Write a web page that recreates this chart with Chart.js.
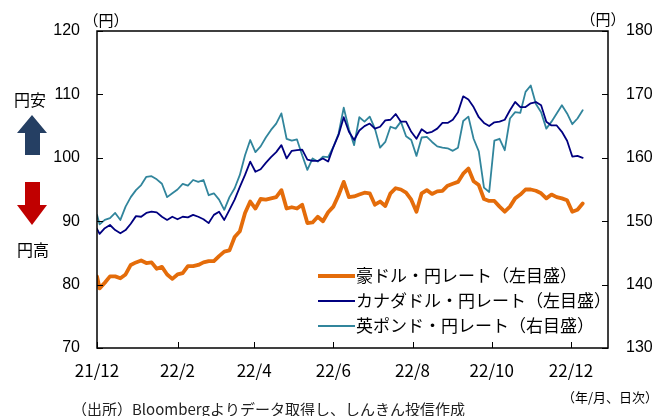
<!DOCTYPE html>
<html lang="ja">
<head>
<meta charset="utf-8">
<title>豪ドル・カナダドル・英ポンドの対円レート</title>
<script src="https://cdn.jsdelivr.net/npm/chart.js@4.4.1/dist/chart.umd.min.js"></script>
<style>
    html, body { margin: 0; padding: 0; background: #fff; }
    #wrap { width: 654px; height: 416px; }
</style>
</head>
<body>
<div id="wrap"><canvas id="fxChart" width="654" height="416"></canvas></div>
<script>
/* ── Données ───────────────────────────────────────────────── */

// jours écoulés depuis le 2021/12/01
const sampleDays = [
    0, 2, 6, 10, 14, 18, 22, 26, 30, 34, 38, 42, 46, 50, 54, 58, 62, 66, 70, 74,
    78, 82, 86, 90, 94, 98, 102, 106, 110, 114, 118, 122, 126, 130, 134, 138, 142, 146, 150, 154,
    158, 162, 166, 170, 174, 178, 182, 186, 190, 194, 198, 202, 206, 210, 214, 218, 222, 226, 230, 234,
    238, 242, 246, 250, 254, 258, 262, 266, 270, 274, 278, 282, 286, 290, 294, 298, 302, 306, 310, 314,
    318, 322, 326, 330, 334, 338, 342, 346, 350, 354, 358, 362, 366, 370, 374,
];

// 豪ドル・円 (左目盛)
const audJpy = [
    81.3, 79.4, 80.3, 81.3, 81.3, 81.0, 81.6, 83.1, 83.5, 83.8, 83.4, 83.5, 82.5, 82.8, 81.6, 80.9, 81.6, 81.8, 82.9, 82.9,
    83.1, 83.5, 83.7, 83.7, 84.5, 85.2, 85.4, 87.5, 88.4, 91.3, 93.1, 92.0, 93.5, 93.4, 93.6, 93.8, 94.9, 92.0, 92.2, 92.0,
    92.6, 89.7, 89.8, 90.7, 90.0, 91.4, 92.3, 94.1, 96.2, 93.8, 93.9, 94.2, 94.5, 94.4, 92.6, 93.1, 92.4, 94.4, 95.2, 95.0,
    94.5, 93.4, 91.5, 94.4, 94.9, 94.3, 94.7, 94.8, 95.6, 95.9, 96.2, 97.5, 98.3, 96.3, 95.7, 93.5, 93.2, 93.2, 92.3, 91.5,
    92.3, 93.6, 94.2, 95.0, 95.0, 94.8, 94.4, 93.6, 94.2, 93.8, 93.6, 93.3, 91.5, 91.8, 92.8,
];

// カナダドル・円 (左目盛)
const cadJpy = [
    88.8, 88.0, 88.9, 89.4, 88.6, 88.1, 88.6, 89.6, 90.8, 90.7, 91.3, 91.5, 91.4, 90.7, 90.2, 90.7, 90.3, 90.7, 90.6, 91.0,
    90.7, 90.3, 89.7, 91.0, 91.5, 90.2, 91.8, 93.4, 95.4, 97.3, 99.4, 97.8, 98.2, 99.2, 100.1, 100.9, 102.0, 99.9, 101.1, 101.2,
    101.3, 99.7, 99.5, 99.5, 99.9, 99.4, 101.7, 103.6, 106.4, 104.1, 102.8, 104.3, 105.0, 105.4, 104.6, 104.9, 105.9, 106.0, 106.9, 105.7,
    105.7, 104.1, 103.0, 104.5, 103.9, 104.1, 104.6, 105.5, 105.5, 106.0, 107.2, 109.7, 109.2, 108.0, 106.4, 105.5, 105.0, 105.6, 105.7, 106.0,
    107.5, 108.8, 108.0, 108.0, 108.6, 108.8, 108.3, 105.7, 105.1, 105.1, 104.1, 102.7, 100.2, 100.3, 100.0,
];

// 英ポンド・円 (右目盛)
const gbpJpy = [
    151.0, 149.5, 150.2, 150.5, 151.3, 150.2, 152.3, 153.8, 154.9, 155.7, 157.0, 157.1, 156.6, 155.9, 153.8, 154.4, 155.0, 155.9, 155.6, 156.5,
    156.2, 156.5, 154.1, 154.4, 153.4, 151.8, 153.8, 155.2, 157.3, 160.4, 162.8, 160.9, 161.8, 163.2, 164.4, 165.4, 167.0, 163.0, 162.7, 162.9,
    160.4, 158.1, 159.9, 159.4, 160.2, 160.1, 161.7, 163.8, 167.9, 164.5, 162.0, 166.4, 165.7, 166.5, 164.6, 161.6, 162.5, 164.9, 164.6, 165.7,
    163.4, 162.8, 160.3, 163.2, 163.3, 162.5, 161.8, 161.6, 161.5, 161.1, 161.6, 165.8, 166.5, 163.0, 161.0, 155.3, 154.6, 162.7, 163.0, 161.2,
    166.2, 167.2, 167.1, 170.4, 171.4, 168.5, 167.2, 164.6, 165.7, 167.0, 168.3, 167.0, 165.3, 166.2, 167.5,
];

const xTickDays   = [0, 62, 121, 182, 243, 304, 365];
const xTickLabels = ["21/12", "22/2", "22/4", "22/6", "22/8", "22/10", "22/12"];

const seriesLabels = ["豪ドル・円レート（左目盛）", "カナダドル・円レート（左目盛）", "英ポンド・円レート（右目盛）"];

/* ── Styles ────────────────────────────────────────────────── */

const JP_FONT  = "'Noto Sans CJK JP', 'Noto Sans', sans-serif";
const NUM_FONT = "'Liberation Sans', Arial, sans-serif";
const COLORS   = { aud: "#E46C0A", cad: "#000080", gbp: "#31859C" };

function toPoints(values) {
    return values.map((v, i) => ({ x: sampleDays[i], y: v }));
}

/* ── Cadre, graduations, textes ────────────────────────────── */

const framePlugin = {
    id: "frame",
    afterDraw(chart) {
        const { ctx, chartArea: a, scales } = chart;
        ctx.save();

        // cadre
        ctx.strokeStyle = "#000";
        ctx.lineWidth = 1.5;
        ctx.strokeRect(a.left, a.top, a.right - a.left, a.bottom - a.top);

        // graduations vers l'intérieur
        ctx.lineWidth = 1;
        ctx.beginPath();
        scales.y.ticks.forEach((t, i) => {
            const y = Math.round(scales.y.getPixelForTick(i)) + 0.5;
            ctx.moveTo(a.left, y); ctx.lineTo(a.left + 6, y);
        });
        scales.y2.ticks.forEach((t, i) => {
            const y = Math.round(scales.y2.getPixelForTick(i)) + 0.5;
            ctx.moveTo(a.right - 6, y); ctx.lineTo(a.right, y);
        });
        scales.x.ticks.forEach((t, i) => {
            const x = Math.round(scales.x.getPixelForTick(i)) + 0.5;
            ctx.moveTo(x, a.bottom - 6); ctx.lineTo(x, a.bottom);
        });
        ctx.stroke();

        // unités
        ctx.fillStyle = "#000";
        ctx.font = `15px ${JP_FONT}`;
        ctx.textAlign = "center";
        ctx.textBaseline = "middle";
        ctx.fillText("（円）", 106, 20);
        ctx.fillText("（円）", 603, 19);

        // 円安 / 円高 + flèches
        ctx.font = `16px ${JP_FONT}`;
        ctx.fillText("円安", 30, 100);
        ctx.fillText("円高", 33, 250);

        ctx.fillStyle = "#253F63";
        ctx.beginPath();
        ctx.moveTo(32, 115); ctx.lineTo(47, 133); ctx.lineTo(40, 133); ctx.lineTo(40, 155);
        ctx.lineTo(25, 155); ctx.lineTo(25, 133); ctx.lineTo(17, 133); ctx.closePath();
        ctx.fill();

        ctx.fillStyle = "#C00000";
        ctx.beginPath();
        ctx.moveTo(25, 182); ctx.lineTo(40, 182); ctx.lineTo(40, 205); ctx.lineTo(47, 205);
        ctx.lineTo(32, 225); ctx.lineTo(17, 205); ctx.lineTo(25, 205); ctx.closePath();
        ctx.fill();

        // légende
        ctx.font = `17px ${JP_FONT}`;
        ctx.textAlign = "left";
        chart.data.datasets.forEach((ds, i) => {
            const y = 276 + i * 25;
            ctx.strokeStyle = ds.borderColor;
            ctx.lineWidth = ds.borderWidth;
            ctx.beginPath();
            ctx.moveTo(318, y); ctx.lineTo(355, y);
            ctx.stroke();
            ctx.fillStyle = "#000";
            ctx.fillText(ds.label, 356, y);
        });

        // notes
        ctx.font = `13px ${JP_FONT}`;
        ctx.textAlign = "right";
        ctx.fillText("（年/月、日次）", 658, 397);
        ctx.font = `15px ${JP_FONT}`;
        ctx.textAlign = "left";
        ctx.fillStyle = "#222";
        ctx.fillText("（出所）Bloombergよりデータ取得し、しんきん投信作成", 72, 409);

        ctx.restore();
    },
};

/* ── Graphique ─────────────────────────────────────────────── */

const ctx = document.getElementById("fxChart").getContext("2d");

new Chart(ctx, {
    type: "line",
    data: {
        datasets: [
            { label: seriesLabels[0], data: toPoints(audJpy), yAxisID: "y",  borderColor: COLORS.aud, borderWidth: 3.8, order: 0 },
            { label: seriesLabels[1], data: toPoints(cadJpy), yAxisID: "y",  borderColor: COLORS.cad, borderWidth: 1.8, order: 1 },
            { label: seriesLabels[2], data: toPoints(gbpJpy), yAxisID: "y2", borderColor: COLORS.gbp, borderWidth: 1.8, order: 2 },
        ],
    },
    options: {
        responsive: false,
        animation: false,
        layout: { padding: { top: 31, left: 0, right: 0, bottom: 0 } },
        elements: {
            point: { radius: 0 },
            line:  { tension: 0, borderJoinStyle: "round", borderCapStyle: "round" },
        },
        plugins: { legend: { display: false }, tooltip: { enabled: false } },
        scales: {
            x: {
                type: "linear",
                min: 0,
                max: 393.5,
                afterBuildTicks: (s) => { s.ticks = xTickDays.map((v) => ({ value: v })); },
                afterFit: (s) => { s.height = 68; },
                grid:   { display: false, drawTicks: false },
                border: { display: false },
                ticks:  {
                    autoSkip: false, maxRotation: 0, padding: 12, color: "#000",
                    font: { family: JP_FONT, size: 17 },
                    callback: (v, i) => xTickLabels[i],
                },
            },
            y: {
                position: "left",
                min: 70, max: 120,
                afterFit: (s) => { s.width = 97; },
                grid:   { display: false, drawTicks: false },
                border: { display: false },
                ticks:  { stepSize: 10, padding: 17, color: "#000", font: { family: NUM_FONT, size: 16 } },
            },
            y2: {
                position: "right",
                min: 130, max: 180,
                afterFit: (s) => { s.width = 46; },
                grid:   { display: false, drawTicks: false },
                border: { display: false },
                ticks:  { stepSize: 10, padding: 18, color: "#000", font: { family: NUM_FONT, size: 16 } },
            },
        },
    },
    plugins: [framePlugin],
});
</script>
</body>
</html>
